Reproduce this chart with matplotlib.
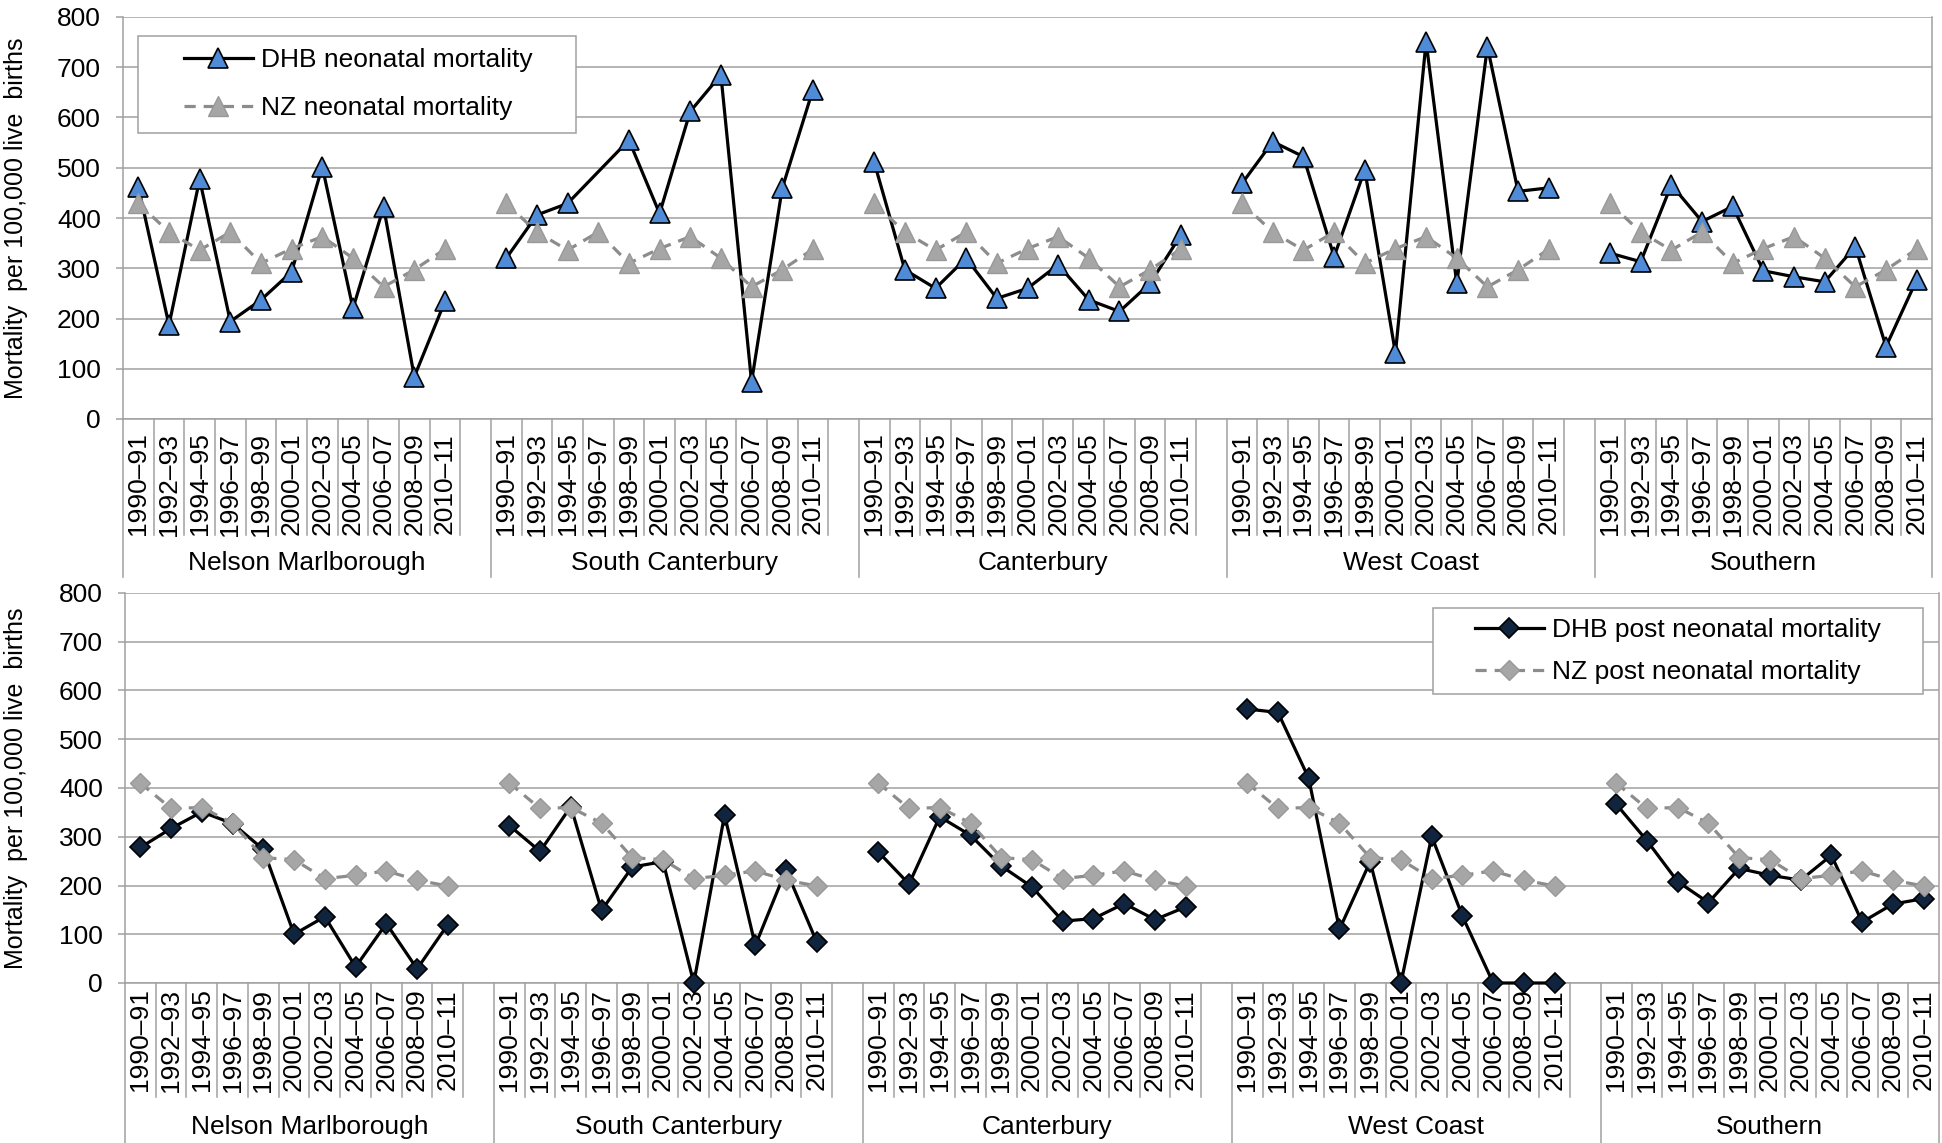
import numpy as np
import matplotlib.pyplot as plt
import matplotlib.transforms as mtransforms
from matplotlib.lines import Line2D
from matplotlib.patches import Rectangle

plt.rcParams['font.family'] = ['Liberation Sans', 'DejaVu Sans']

periods = ['1990–91', '1992–93', '1994–95', '1996–97', '1998–99', '2000–01',
           '2002–03', '2004–05', '2006–07', '2008–09', '2010–11']
regions = ['Nelson Marlborough', 'South Canterbury', 'Canterbury', 'West Coast', 'Southern']

# neonatal mortality per 100,000 live births
nz_neonatal = [429, 372, 336, 372, 310, 339, 363, 320, 263, 297, 338]
neo_nelson = [462, 187, 477, 194, 237, 293, 502, 220, 422, 84, 234]
neo_south_cant = [320, 406, 429, np.nan, 555, 409, 612, 685, 74, 459, 655]
neo_canterbury = [511, 297, 260, 320, 240, 260, 307, 237, 214, 270, 366]
neo_west_coast = [469, 552, 522, 323, 496, 131, 751, 270, 741, 453, 460]
neo_southern = [330, 313, 466, 393, 423, 295, 283, 273, 343, 144, 277]

# post neonatal mortality per 100,000 live births
nz_post = [410, 358, 360, 328, 257, 253, 214, 221, 230, 211, 199]
post_nelson = [278, 317, 351, 327, 274, 100, 136, 33, 122, 29, 120]
post_south_cant = [323, 270, 362, 149, 238, 249, 0, 345, 77, 232, 84]
post_canterbury = [269, 203, 341, 303, 240, 197, 127, 132, 163, 130, 156]
post_west_coast = [562, 555, 420, 110, 249, 0, 301, 137, 0, 0, 0]
post_southern = [367, 292, 208, 165, 235, 221, 211, 262, 125, 162, 173]

W, H = 1942, 1143
GRID = '#a0a0a0'
FS = 19
N_SLOTS = 59  # 11 periods per region plus a blank slot between regions

fig = plt.figure(figsize=(W / 100, H / 100), dpi=100)


def fy(py):
    return 1 - py / H


def box(left, right, top, bottom):
    return [left / W, 1 - bottom / H, (right - left) / W, (bottom - top) / H]


dhb_neo_style = dict(color='black', lw=2.3, marker='^', ms=14,
                     mfc='#4f8bd6', mec='black', mew=1.2)
nz_neo_style = dict(color='#8c8c8c', lw=2.3, ls=(0, (3.5, 2.5)), marker='^', ms=14,
                    mfc='#a6a6a6', mec='#999999', mew=1.0)
dhb_post_style = dict(color='black', lw=2.3, marker='D', ms=10.5,
                      mfc='#10243e', mec='black', mew=1.2)
nz_post_style = dict(color='#8c8c8c', lw=2.3, ls=(0, (3.5, 2.5)), marker='D', ms=10.5,
                     mfc='#a6a6a6', mec='#999999', mew=1.0)


def draw_panel(ax, series, nz, dhb_style, nz_style, axis_px, short_px, long_px,
               label_px, region_px, label_x):
    ax.set_xlim(0, N_SLOTS)
    ax.set_ylim(0, 800)
    ax.set_yticks(range(0, 801, 100))
    ax.set_xticks([])
    ax.grid(axis='y', color=GRID, lw=1.1)
    ax.set_axisbelow(True)
    ax.spines['top'].set_visible(False)
    for s in ('left', 'right', 'bottom'):
        ax.spines[s].set_color(GRID)
        ax.spines[s].set_linewidth(1.1)
    ax.tick_params(axis='y', length=5, width=1.1, color=GRID, pad=11, labelsize=FS)
    ax.set_ylabel('Mortality  per 100,000 live  births', fontsize=18)
    ax.yaxis.set_label_coords(label_x, 0.5)

    x0 = np.arange(11) + 0.5
    for g, vals in enumerate(series):
        v = np.array(vals, dtype=float)
        ok = ~np.isnan(v)
        ax.plot(g * 12 + x0[ok], v[ok], clip_on=False, zorder=3, **dhb_style)
    for g in range(len(series)):
        ax.plot(g * 12 + x0, nz, clip_on=False, zorder=4, **nz_style)

    # category separators below the axis
    blend = mtransforms.blended_transform_factory(ax.transData, fig.transFigure)
    for k in range(N_SLOTS + 1):
        end = long_px if (k % 12 == 0 or k == N_SLOTS) else short_px
        ax.plot([k, k], [fy(axis_px), fy(end)], transform=blend, color=GRID,
                lw=1.1, clip_on=False)
    for g, name in enumerate(regions):
        for i, p in enumerate(periods):
            ax.text(g * 12 + i + 0.5, fy(label_px), p, rotation=90, ha='center',
                    va='center', fontsize=FS, transform=blend)
        right = min(g * 12 + 12, N_SLOTS)
        ax.text((g * 12 + right) / 2, fy(region_px), name, ha='center', va='center',
                fontsize=FS, transform=blend)


ax_top = fig.add_axes(box(123, 1932, 17, 419))
ax_bot = fig.add_axes(box(125, 1939, 593, 983))

draw_panel(ax_top, [neo_nelson, neo_south_cant, neo_canterbury, neo_west_coast, neo_southern],
           nz_neonatal, dhb_neo_style, nz_neo_style, 419, 535, 577, 484, 563,
           (28 - 123) / 1809)
draw_panel(ax_bot, [post_nelson, post_south_cant, post_canterbury, post_west_coast, post_southern],
           nz_post, dhb_post_style, nz_post_style, 983, 1097, 1160, 1040, 1127,
           (28 - 125) / 1814)


def legend_box(handles, labels, rect, handle_x, center_y, spacing):
    left, top, right, bottom = rect
    fig.patches.append(Rectangle((left / W, fy(bottom)), (right - left) / W,
                                 (bottom - top) / H, transform=fig.transFigure,
                                 facecolor='white', edgecolor=GRID, lw=1.1, zorder=5))
    leg = fig.legend(handles, labels, loc='center left', frameon=False,
                     bbox_to_anchor=(handle_x / W, fy(center_y)),
                     borderpad=0, borderaxespad=0, fontsize=FS,
                     handlelength=2.6, handletextpad=0.3, labelspacing=spacing)
    leg.set_zorder(6)


legend_box([Line2D([], [], **dhb_neo_style), Line2D([], [], **nz_neo_style)],
           ['DHB neonatal mortality', 'NZ neonatal mortality'],
           (138, 36, 576, 133), 184, 84, 0.92)
legend_box([Line2D([], [], **dhb_post_style), Line2D([], [], **nz_post_style)],
           ['DHB post neonatal mortality', 'NZ post neonatal mortality'],
           (1433, 608, 1923, 694), 1475, 651, 0.68)

fig.savefig('out.png', dpi=100)
